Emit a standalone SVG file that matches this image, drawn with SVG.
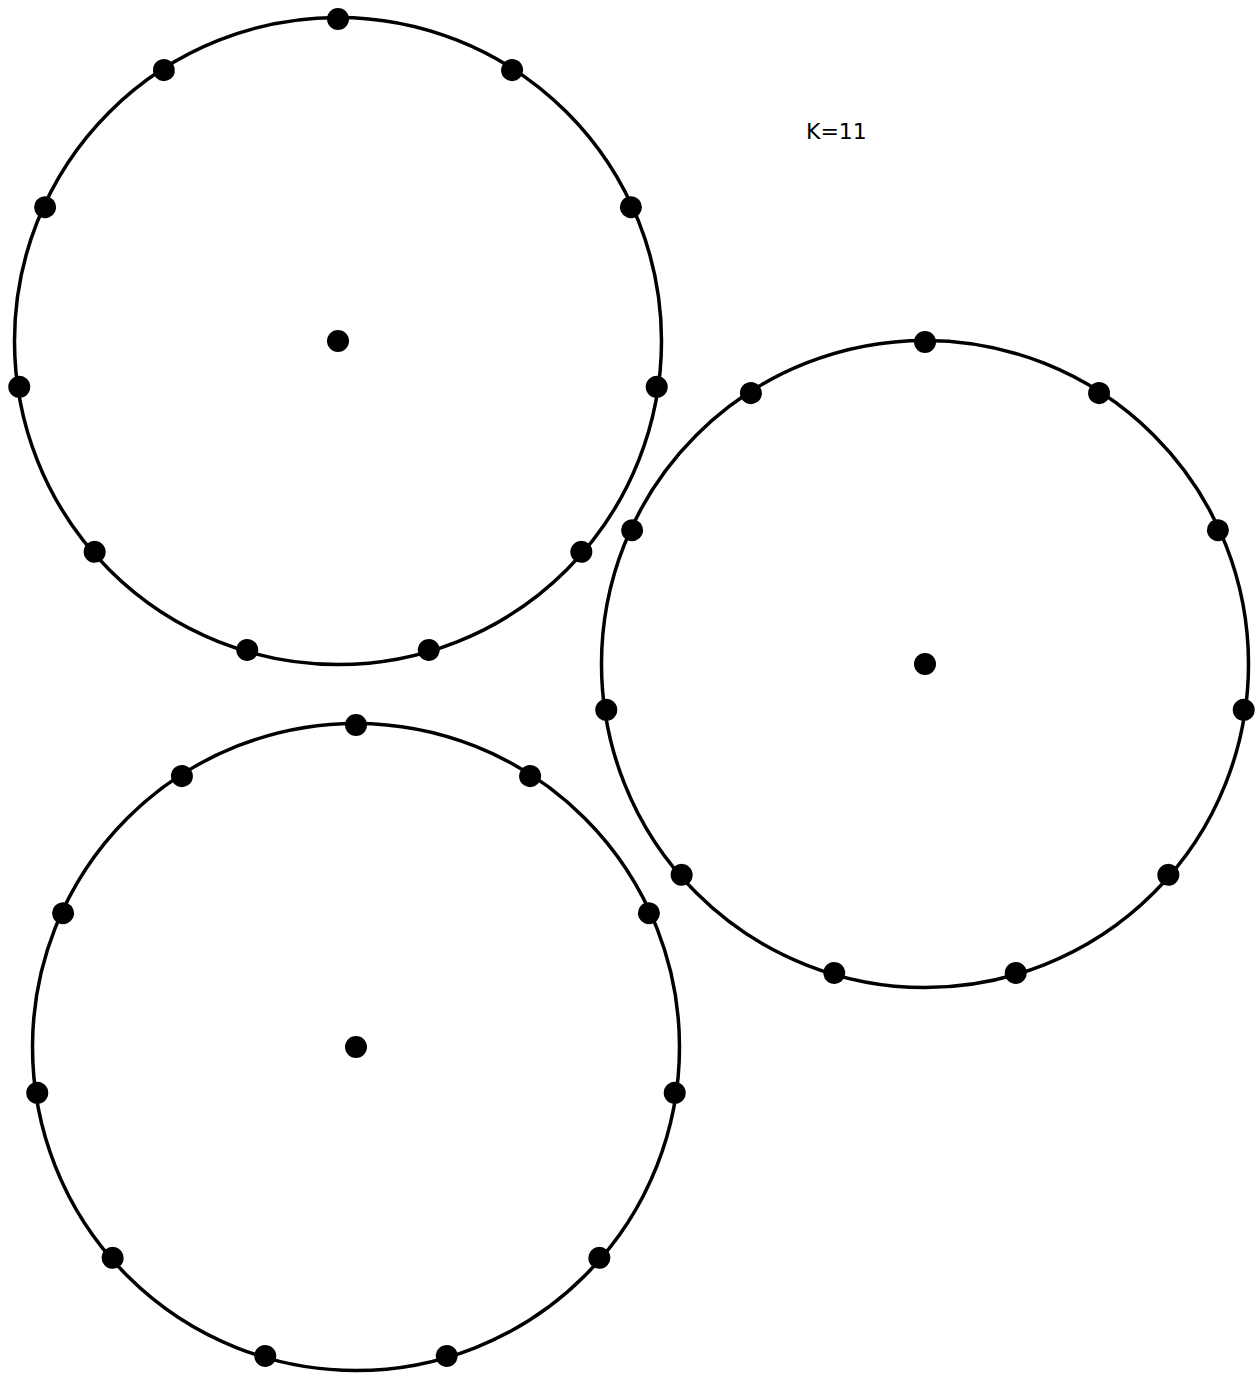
<svg xmlns="http://www.w3.org/2000/svg" width="1259" height="1374" viewBox="0 0 1259 1374">
<style>
.ring{fill:none;stroke:#000;stroke-width:3.5}
.dot{fill:#000}
.lbl{font-family:"DejaVu Sans",sans-serif;font-size:22px;fill:#000}
</style>
<rect width="1259" height="1374" fill="#fff"/>
<g id="connectors"/>
<text class="lbl" x="806" y="139">K=11</text>
<g id="ring1">
<circle class="ring" cx="338" cy="341" r="323.5"/>
<circle class="dot" cx="338" cy="341" r="11"/>
<circle class="dot" cx="338" cy="19" r="11" transform="rotate(0 338 341)"/>
<circle class="dot" cx="338" cy="19" r="11" transform="rotate(32.727 338 341)"/>
<circle class="dot" cx="338" cy="19" r="11" transform="rotate(65.455 338 341)"/>
<circle class="dot" cx="338" cy="19" r="11" transform="rotate(98.182 338 341)"/>
<circle class="dot" cx="338" cy="19" r="11" transform="rotate(130.909 338 341)"/>
<circle class="dot" cx="338" cy="19" r="11" transform="rotate(163.636 338 341)"/>
<circle class="dot" cx="338" cy="19" r="11" transform="rotate(196.364 338 341)"/>
<circle class="dot" cx="338" cy="19" r="11" transform="rotate(229.091 338 341)"/>
<circle class="dot" cx="338" cy="19" r="11" transform="rotate(261.818 338 341)"/>
<circle class="dot" cx="338" cy="19" r="11" transform="rotate(294.545 338 341)"/>
<circle class="dot" cx="338" cy="19" r="11" transform="rotate(327.273 338 341)"/>
</g>
<g id="ring2">
<circle class="ring" cx="925" cy="664" r="323.5"/>
<circle class="dot" cx="925" cy="664" r="11"/>
<circle class="dot" cx="925" cy="342" r="11" transform="rotate(0 925 664)"/>
<circle class="dot" cx="925" cy="342" r="11" transform="rotate(32.727 925 664)"/>
<circle class="dot" cx="925" cy="342" r="11" transform="rotate(65.455 925 664)"/>
<circle class="dot" cx="925" cy="342" r="11" transform="rotate(98.182 925 664)"/>
<circle class="dot" cx="925" cy="342" r="11" transform="rotate(130.909 925 664)"/>
<circle class="dot" cx="925" cy="342" r="11" transform="rotate(163.636 925 664)"/>
<circle class="dot" cx="925" cy="342" r="11" transform="rotate(196.364 925 664)"/>
<circle class="dot" cx="925" cy="342" r="11" transform="rotate(229.091 925 664)"/>
<circle class="dot" cx="925" cy="342" r="11" transform="rotate(261.818 925 664)"/>
<circle class="dot" cx="925" cy="342" r="11" transform="rotate(294.545 925 664)"/>
<circle class="dot" cx="925" cy="342" r="11" transform="rotate(327.273 925 664)"/>
</g>
<g id="ring3">
<circle class="ring" cx="356" cy="1047" r="323.5"/>
<circle class="dot" cx="356" cy="1047" r="11"/>
<circle class="dot" cx="356" cy="725" r="11" transform="rotate(0 356 1047)"/>
<circle class="dot" cx="356" cy="725" r="11" transform="rotate(32.727 356 1047)"/>
<circle class="dot" cx="356" cy="725" r="11" transform="rotate(65.455 356 1047)"/>
<circle class="dot" cx="356" cy="725" r="11" transform="rotate(98.182 356 1047)"/>
<circle class="dot" cx="356" cy="725" r="11" transform="rotate(130.909 356 1047)"/>
<circle class="dot" cx="356" cy="725" r="11" transform="rotate(163.636 356 1047)"/>
<circle class="dot" cx="356" cy="725" r="11" transform="rotate(196.364 356 1047)"/>
<circle class="dot" cx="356" cy="725" r="11" transform="rotate(229.091 356 1047)"/>
<circle class="dot" cx="356" cy="725" r="11" transform="rotate(261.818 356 1047)"/>
<circle class="dot" cx="356" cy="725" r="11" transform="rotate(294.545 356 1047)"/>
<circle class="dot" cx="356" cy="725" r="11" transform="rotate(327.273 356 1047)"/>
</g>
</svg>
